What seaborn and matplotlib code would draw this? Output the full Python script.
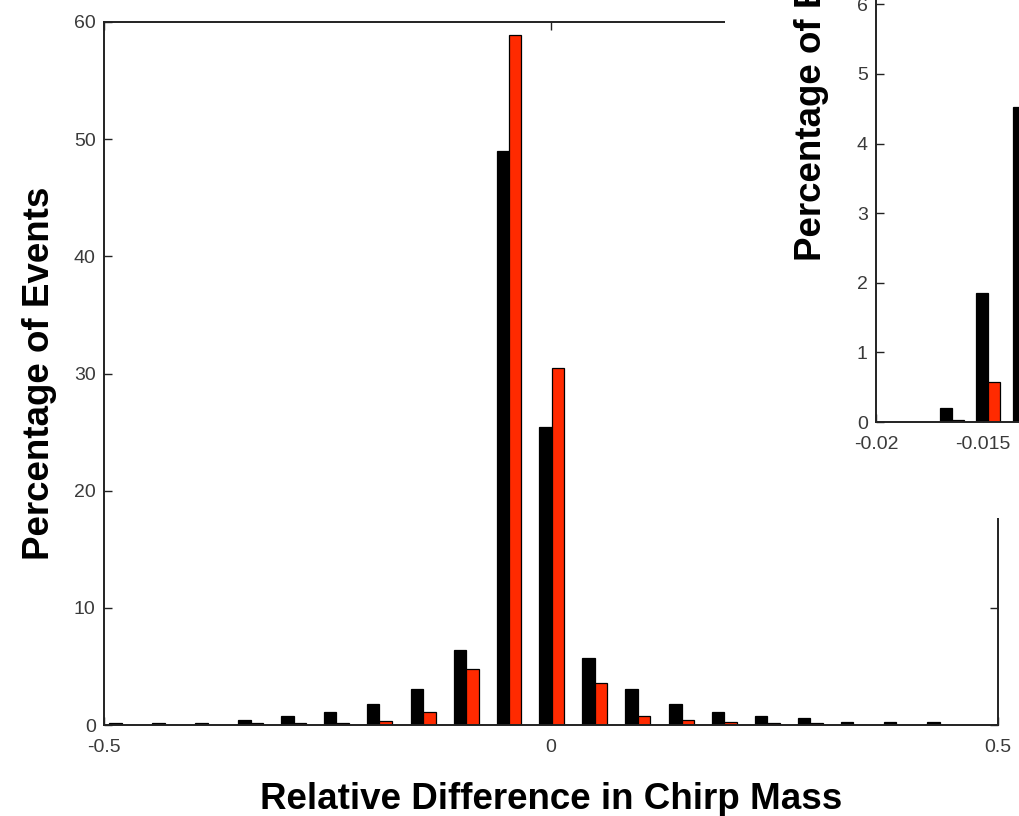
import numpy as np
import pandas as pd
import matplotlib
matplotlib.use("Agg")
import matplotlib.pyplot as plt
from matplotlib.patches import Rectangle
import seaborn as sns

# ---------------- data ----------------
bin_centers = [-0.480, -0.432, -0.384, -0.336, -0.288, -0.240, -0.192, -0.143,
               -0.095, -0.047, 0.001, 0.049, 0.097, 0.146, 0.194, 0.242,
               0.290, 0.338, 0.386, 0.435]
black_pct = [0.2, 0.2, 0.2, 0.43, 0.77, 1.1, 1.82, 3.1, 6.4, 49.0, 25.4,
             5.75, 3.1, 1.82, 1.1, 0.77, 0.6, 0.25, 0.25, 0.25]
red_pct = [0.0, 0.0, 0.0, 0.2, 0.2, 0.2, 0.34, 1.08, 4.8, 58.9, 30.5,
           3.55, 0.77, 0.4, 0.25, 0.2, 0.2, 0.0, 0.0, 0.0]

inset_centers = [-0.01645, -0.01475, -0.01305]
inset_black = [0.2, 1.85, 4.53]
inset_red = [0.03, 0.58, 3.4]

series_names = ["Black", "Red"]
x_ticks = [-0.5, 0, 0.5]
x_ticklabels = ["-0.5", "0", "0.5"]
y_ticks = [0, 10, 20, 30, 40, 50, 60]
inset_xticks = [-0.02, -0.015, -0.01, -0.005]
inset_xticklabels = ["-0.02", "-0.015", "-0.01", "-0.005"]
inset_yticks = list(range(0, 11))

RED = "#ff2a00"

df_main = pd.DataFrame({
    "x": bin_centers * 2,
    "pct": black_pct + red_pct,
    "series": [series_names[0]] * len(bin_centers) + [series_names[1]] * len(bin_centers),
})
df_inset = pd.DataFrame({
    "x": inset_centers * 2,
    "pct": inset_black + inset_red,
    "series": [series_names[0]] * len(inset_centers) + [series_names[1]] * len(inset_centers),
})

sns.set_theme(style="white")
plt.rcParams["font.family"] = ["Liberation Sans", "DejaVu Sans"]

W, H = 1019, 816
fig = plt.figure(figsize=(W / 100, H / 100), dpi=100)

def fx(px):
    return px / W

def fy(py):
    return 1 - py / H

tick_font = dict(fontsize=14, color="#3a3a3a")
label_font = dict(fontsize=26.5, fontweight="bold", color="black")

def style_axes(a):
    a.tick_params(direction="in", length=6, width=1.0, color="#222222",
                  top=True, right=True, bottom=True, left=True)
    a.tick_params(axis="x", pad=10)
    a.tick_params(axis="y", pad=6)
    for s in a.spines.values():
        s.set_color("#222222")
        s.set_linewidth(1.4)
    a.set_facecolor("white")

# ---------------- main axes ----------------
ax = fig.add_axes([fx(104), fy(725), fx(998) - fx(104), fy(22) - fy(725)])
sns.barplot(data=df_main, x="x", y="pct", hue="series", native_scale=True,
            dodge=True, width=0.58, palette=["black", RED], saturation=1,
            edgecolor="black", linewidth=0.9, errorbar=None, legend=False, ax=ax)
ax.set_xlim(-0.5, 0.5)
ax.set_ylim(0, 60)
ax.set_xticks(x_ticks)
ax.set_xticklabels(x_ticklabels, **tick_font)
ax.set_yticks(y_ticks)
ax.set_yticklabels([str(v) for v in y_ticks], **tick_font)
style_axes(ax)
ax.set_xlabel("Relative Difference in Chirp Mass", labelpad=19, **label_font)
ax.set_ylabel("Percentage of Events", labelpad=12, **label_font)

# ---------------- white cover for inset ----------------
cover = Rectangle((fx(725), fy(518)), 1.0, 1.0, transform=fig.transFigure,
                  facecolor="white", edgecolor="none", zorder=5)
fig.patches.append(cover)

# ---------------- inset axes ----------------
px_per_unit_x = 21400.0
inset_xmin, inset_xmax = -0.02, 0.02
inset_w_px = (inset_xmax - inset_xmin) * px_per_unit_x
inset_h_px = 10 * 69.6
axi = fig.add_axes([fx(876), fy(422), inset_w_px / W, inset_h_px / H], zorder=10)
sns.barplot(data=df_inset, x="x", y="pct", hue="series", native_scale=True,
            dodge=True, width=0.66, palette=["black", RED], saturation=1,
            edgecolor="black", linewidth=0.9, errorbar=None, legend=False, ax=axi)
axi.set_xlim(inset_xmin, inset_xmax)
axi.set_ylim(0, 10)
axi.set_xticks(inset_xticks)
axi.set_xticklabels(inset_xticklabels, **tick_font)
axi.set_yticks(inset_yticks)
axi.set_yticklabels([str(v) for v in inset_yticks], **tick_font)
style_axes(axi)
axi.set_xlabel("")
axi.set_ylabel("Percentage of Events", labelpad=12, **label_font)

fig.savefig("out.png", dpi=100, facecolor="white")
